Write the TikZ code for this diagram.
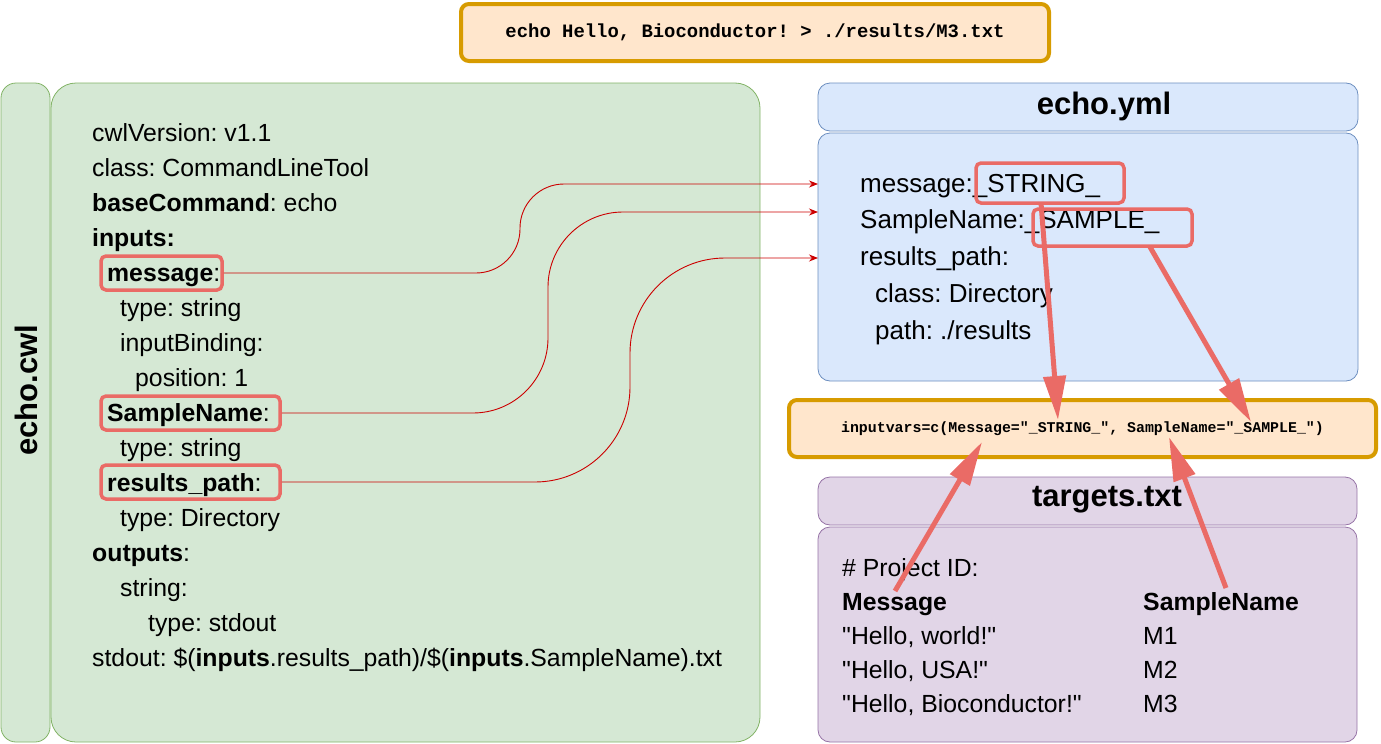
\documentclass[tikz,border=0pt]{standalone}
\usepackage{fontspec}
\setmainfont{Liberation Sans}
\newfontfamily\codefont{Liberation Mono}
\usetikzlibrary{arrows.meta}
\definecolor{gfill}{HTML}{D5E8D4}
\definecolor{gline}{HTML}{82B366}
\definecolor{bfill}{HTML}{DAE8FC}
\definecolor{bline}{HTML}{6C8EBF}
\definecolor{pfill}{HTML}{E1D5E7}
\definecolor{pline}{HTML}{9673A6}
\definecolor{ofill}{HTML}{FFE6CC}
\definecolor{oline}{HTML}{D79B00}
\definecolor{hlred}{HTML}{EA6B66}
\definecolor{linkred}{HTML}{CC0000}
\frenchspacing
\tikzset{
  panel/.style={draw, line width=0.8pt, inner sep=0pt, outer sep=0pt},
  greenbox/.style={panel, fill=gfill, draw=gline},
  bluebox/.style={panel, fill=bfill, draw=bline, rounded corners=12pt},
  purplebox/.style={panel, fill=pfill, draw=pline, rounded corners=12pt},
  orangebox/.style={panel, fill=ofill, draw=oline, line width=4pt, rounded corners=8pt},
  hl/.style={draw=hlred, line width=3.5pt, rounded corners=5pt, inner sep=0pt},
  txt/.style={anchor=base west, inner sep=0pt, font=\fontsize{24.8}{29}\selectfont},
  ytxt/.style={anchor=base west, inner sep=0pt, font=\fontsize{26}{31}\selectfont},
  head/.style={font=\fontsize{31}{36}\selectfont\bfseries},
  code/.style={font=\fontsize{18.9}{22}\selectfont\codefont\bfseries},
  smallcode/.style={font=\fontsize{14.9}{18}\selectfont\codefont\bfseries},
  link/.style={draw=linkred, line width=0.9pt, -{Stealth[length=9pt,width=7pt]}},
  fat/.style={draw=hlred, line width=5pt, -{Triangle[length=44pt,width=22pt]}, shorten >=0pt}
}
\begin{document}
\begin{tikzpicture}[x=1pt,y=-1pt]
\useasboundingbox (0,0) rectangle (1381,744);

% top command box
\node[orangebox, minimum width=588, minimum height=57, code] (cmd) at (755,32.5)
  {echo Hello, Bioconductor! > ./results/M3.txt};

% echo.cwl
\node[greenbox, rounded corners=15pt, minimum width=49, minimum height=659] (cwllab) at (25.5,412.5) {};
\node[head, rotate=90] (cwltitle) at (26,390) {echo.cwl};
\node[greenbox, rounded corners=25pt, minimum width=709, minimum height=659] (cwlbox) at (405.5,412.5) {};

% highlight boxes
\node[hl, minimum width=121, minimum height=34] (hlmsg) at (161.5,273) {};
\node[hl, minimum width=179, minimum height=34] (hlsn) at (190.5,413) {};
\node[hl, minimum width=179, minimum height=34] (hlrp) at (190.5,482) {};

\node[txt] (c1) at (92,141) {cwlVersion: v1.1};
\node[txt] (c2) at (92,176) {class: CommandLineTool};
\node[txt] (c3) at (92,211) {\textbf{baseCommand}: echo};
\node[txt] (c4) at (92,246) {\textbf{inputs:}};
\node[txt] (c5) at (107,281) {\textbf{message}:};
\node[txt] (c6) at (120,316) {type: string};
\node[txt] (c7) at (120,351) {inputBinding:};
\node[txt] (c8) at (135,386) {position: 1};
\node[txt] (c9) at (107,421) {\textbf{SampleName}:};
\node[txt] (c10) at (120,456) {type: string};
\node[txt] (c11) at (107,491) {\textbf{results\_path}:};
\node[txt] (c12) at (120,526) {type: Directory};
\node[txt] (c13) at (92,561) {\textbf{outputs}:};
\node[txt] (c14) at (120,596) {string:};
\node[txt] (c15) at (148,631) {type: stdout};
\node[txt] (c16) at (92,666) {stdout: \$(\textbf{inputs}.results\_path)/\$(\textbf{inputs}.SampleName).txt};

% echo.yml
\node[bluebox, minimum width=540, minimum height=48] (ymlhead) at (1088,107) {};
\node[head] (ymltitle) at (1104,106) {echo.yml};
\node[bluebox, minimum width=540, minimum height=248] (ymlbody) at (1088,257) {};
\node[ytxt] (y1) at (860,192) {message:\_STRING\_};
\node[ytxt] (y2) at (860,228) {SampleName:\_SAMPLE\_};
\node[ytxt] (y3) at (860,265) {results\_path:};
\node[ytxt] (y4) at (875,302) {class: Directory};
\node[ytxt] (y5) at (875,339) {path: ./results};
\node[hl, minimum width=148, minimum height=40] (hlstr) at (1050,183) {};
\node[hl, minimum width=159, minimum height=37] (hlsam) at (1112.5,227.5) {};

% inputvars
\node[orangebox, minimum width=587, minimum height=57, smallcode] (ivars) at (1082.5,428.5)
  {inputvars=c(Message="\_STRING\_", SampleName="\_SAMPLE\_")};

% targets
\node[purplebox, minimum width=539, minimum height=48] (tghead) at (1087.5,501) {};
\node[head] (tgtitle) at (1107,500) {targets.txt};
\node[purplebox, minimum width=539, minimum height=215] (tgbody) at (1087.5,634.5) {};
\node[txt] (t1) at (842,576) {\# Project ID:};
\node[txt] (t2) at (842,610) {\textbf{Message}};
\node[txt] (t3) at (1143,610) {\textbf{SampleName}};
\node[txt] (t4) at (842,644) {\textquotedbl Hello, world!\textquotedbl};
\node[txt] (t5) at (1143,644) {M1};
\node[txt] (t6) at (842,678) {\textquotedbl Hello, USA!\textquotedbl};
\node[txt] (t7) at (1143,678) {M2};
\node[txt] (t8) at (842,712) {\textquotedbl Hello, Bioconductor!\textquotedbl};
\node[txt] (t9) at (1143,712) {M3};

% thin connectors
\coordinate (e1) at (818,184);
\coordinate (e2) at (818,212);
\coordinate (e3) at (818,258);
\coordinate (k1) at (520,184);
\coordinate (k2) at (548,212);
\coordinate (k3) at (630,258);
\draw[link, rounded corners=44pt] (hlmsg.east) -| (k1) -- (e1);
\draw[link, rounded corners=75pt] (hlsn.east) -| (k2) -- (e2);
\draw[link, rounded corners=95pt] (hlrp.east) -| (k3) -- (e3);

% thick arrows
\coordinate (s1) at (1041,203);
\coordinate (d1) at (1058,420);
\coordinate (s2) at (1150,247);
\coordinate (d2) at (1251,422);
\coordinate (s3) at (895,591);
\coordinate (d3) at (982,442);
\coordinate (s4) at (1226,588);
\coordinate (d4) at (1169,437);
\draw[fat] (s1) -- (d1);
\draw[fat] (s2) -- (d2);
\draw[fat] (s3) -- (d3);
\draw[fat] (s4) -- (d4);
\end{tikzpicture}
\end{document}
